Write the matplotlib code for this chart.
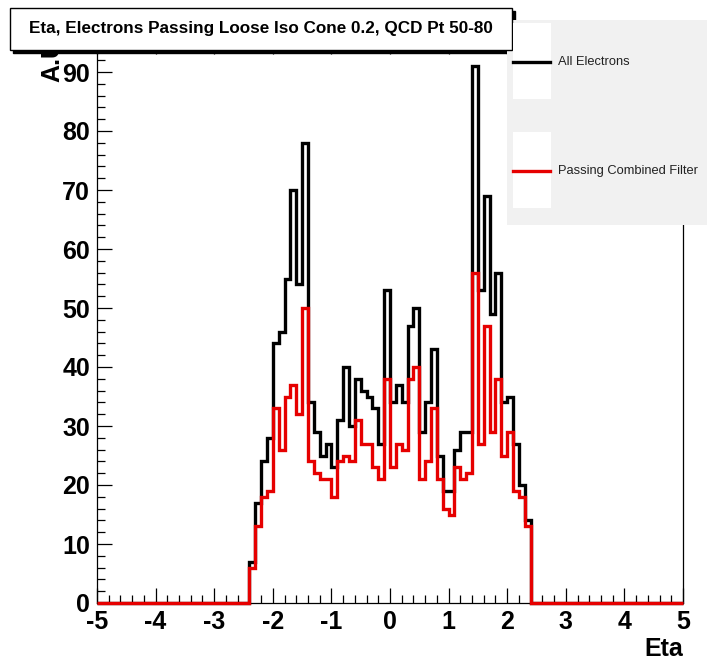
import numpy as np
import matplotlib
matplotlib.use("Agg")
import matplotlib.pyplot as plt
from matplotlib.patches import Rectangle
from matplotlib.lines import Line2D

# Eta histogram: 100 bins from -5 to 5, only |eta| < 2.4 populated
eta_lo, eta_hi, n_bins = -5.0, 5.0, 100
filled_from = -2.4  # first populated bin edge

all_electrons = [7, 17, 24, 28, 44, 46, 55, 70, 54, 78,
                 34, 29, 25, 27, 23, 31, 40, 30, 38, 36,
                 35, 33, 27, 53, 34, 37, 34, 47, 50, 29,
                 34, 43, 25, 19, 19, 26, 29, 29, 91, 53,
                 69, 49, 56, 34, 35, 27, 20, 14]
passing_filter = [6, 13, 18, 19, 33, 26, 35, 37, 32, 50,
                  24, 22, 21, 21, 18, 24, 25, 24, 31, 27,
                  27, 23, 21, 38, 23, 27, 26, 38, 40, 21,
                  24, 33, 21, 16, 15, 23, 21, 22, 56, 27,
                  47, 29, 38, 25, 29, 19, 18, 13]

x_ticks = [-5, -4, -3, -2, -1, 0, 1, 2, 3, 4, 5]
y_ticks = [0, 10, 20, 30, 40, 50, 60, 70, 80, 90]
title = "Eta, Electrons Passing Loose Iso Cone 0.2, QCD Pt 50-80"
legend_labels = ["All Electrons", "Passing Combined Filter"]

W, H = 707, 663
plt.rcParams["font.family"] = ["Liberation Sans", "DejaVu Sans"]
plt.rcParams["axes.unicode_minus"] = False

edges = np.linspace(eta_lo, eta_hi, n_bins + 1)
width = (eta_hi - eta_lo) / n_bins
start = int(round((filled_from - eta_lo) / width))


def full_hist(vals):
    h = np.zeros(n_bins)
    h[start:start + len(vals)] = vals
    return h


h_all = full_hist(all_electrons)
h_pass = full_hist(passing_filter)
ymax = h_all.max() * 1.05


def fx(px):
    return px / W


def fy(py):
    return 1 - py / H


fig = plt.figure(figsize=(W / 100, H / 100), dpi=100)
fig.patch.set_facecolor("white")

left, right, bottom = 97, 683, 603
top = bottom - ymax * 5.9
ax = fig.add_axes([fx(left), fy(bottom), fx(right - left), fy(top) - fy(bottom)])

ax.stairs(h_all, edges, color="black", lw=2.4, clip_on=False, zorder=3)
ax.stairs(h_pass, edges, color="#e60000", lw=2.4, clip_on=False, zorder=4)

ax.set_xlim(eta_lo, eta_hi)
ax.set_ylim(0, ymax)
ax.set_xticks(x_ticks)
ax.set_yticks(y_ticks)
ax.set_xticks(np.arange(-5, 5.01, 0.2), minor=True)
ax.set_yticks(np.arange(0, ymax, 2), minor=True)
ax.tick_params(axis="both", which="both", direction="in", width=0.9, color="black")
ax.tick_params(axis="x", which="major", length=11, top=True, pad=5)
ax.tick_params(axis="x", which="minor", length=5.5, top=True)
ax.tick_params(axis="y", which="major", length=11, pad=5)
ax.tick_params(axis="y", which="minor", length=5.5)
ax.tick_params(axis="both", which="major", labelsize=18)
for lab in ax.get_xticklabels() + ax.get_yticklabels():
    lab.set_fontweight("bold")
for s in ax.spines.values():
    s.set_linewidth(0.9)

ax.set_xlabel("Eta", fontsize=18, fontweight="bold", loc="right", labelpad=2)
ax.set_ylabel("A.U.", fontsize=18, fontweight="bold", loc="top")
ax.yaxis.set_label_coords((64 - left) / (right - left), 1.012)

# title pave with shadow
tx0, ty0, tx1, ty1 = 10, 8, 512, 50
fig.add_artist(Rectangle((fx(tx0 + 3), fy(ty1 + 3)), fx(tx1 - tx0), fy(ty0) - fy(ty1),
                         transform=fig.transFigure, facecolor="black", edgecolor="black",
                         zorder=10))
fig.add_artist(Rectangle((fx(tx0), fy(ty1)), fx(tx1 - tx0), fy(ty0) - fy(ty1),
                         transform=fig.transFigure, facecolor="white", edgecolor="black",
                         lw=1.0, zorder=11))
fig.text(fx((tx0 + tx1) / 2), fy((ty0 + ty1) / 2), title, ha="center", va="center",
         fontsize=12.3, fontweight="bold", zorder=12)

# legend pave
lx0, ly0, lx1, ly1 = 507, 20, 707, 225
fig.add_artist(Rectangle((fx(lx0), fy(ly1)), fx(lx1 - lx0), fy(ly0) - fy(ly1),
                         transform=fig.transFigure, facecolor="#f1f1f1", edgecolor="none",
                         zorder=10))
for (wy0, wy1), line_y, color, label in zip([(23, 99), (132, 208)], [62, 171],
                                            ["black", "#e60000"], legend_labels):
    fig.add_artist(Rectangle((fx(513), fy(wy1)), fx(551 - 513), fy(wy0) - fy(wy1),
                             transform=fig.transFigure, facecolor="white",
                             edgecolor="none", zorder=11))
    fig.add_artist(Line2D([fx(513), fx(550)], [fy(line_y), fy(line_y)],
                          transform=fig.transFigure, color=color, lw=2.4, zorder=12))
    fig.text(fx(558), fy(line_y), label, ha="left", va="center", fontsize=9.3,
             color="#222222", zorder=12)

fig.savefig("out.png", dpi=100, facecolor="white")
